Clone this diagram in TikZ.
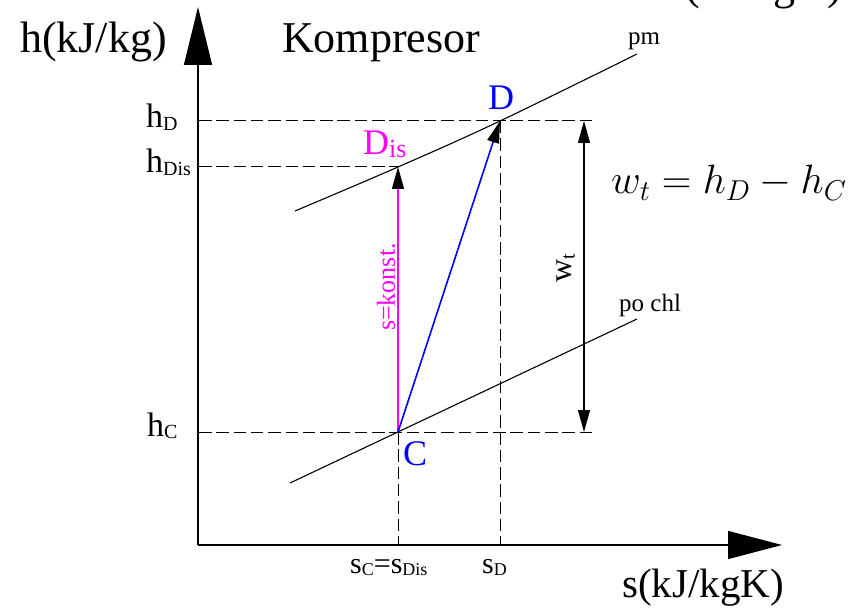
\RequirePackage{fix-cm}
\documentclass[tikz,border=0pt]{standalone}
\usepackage{fontspec}
\setmainfont{Liberation Serif}
\usetikzlibrary{arrows.meta}
\definecolor{mag}{RGB}{255,0,255}
\definecolor{blu}{RGB}{0,0,255}
\newcommand\fsz[1]{\fontsize{#1pt}{#1pt}\selectfont}
\newcommand\lbl[4]{{\fsz{#3}#1\raisebox{-0.08em}{\fsz{#4}#2}}}
\tikzset{
  tipk/.style={-{Triangle[length=22pt,width=12pt,color=black]}},
  dtipk/.style={{Triangle[length=22pt,width=12pt]}-{Triangle[length=22pt,width=12pt]}},
  dsh/.style={dash pattern=on 12.5pt off 4.8pt, line width=1pt},
  txt/.style={inner sep=0pt, anchor=base west},
  thin line/.style={line width=1.1pt},
  proc/.style={line width=1.6pt},
  axis/.style={line width=1.4pt}
}
\begin{document}
\begin{tikzpicture}[x=1pt,y=-1pt]
\useasboundingbox (0,0) rectangle (864,609);
% key points
\coordinate (O) at (198,545);
\coordinate (Ytop) at (198,7);
\coordinate (Xend) at (782,545);
\coordinate (C) at (398,432);
\coordinate (D) at (500,121);
\coordinate (Dis) at (398,167);
\coordinate (hD) at (199,121);
\coordinate (hDis) at (199,167);
\coordinate (hC) at (199,432);
\coordinate (rD) at (596,121);
\coordinate (rC) at (596,432);
\coordinate (sC) at (398,545);
\coordinate (sD) at (500,545);
\coordinate (wT) at (584,121);
\coordinate (wB) at (584,432);
\coordinate (pmA) at (295,211);
\coordinate (pmB) at (637,54);
\coordinate (pcA) at (290,483);
\coordinate (pcB) at (637,319);
% dashed helper lines
\draw[dsh] (hD) -- (rD);
\draw[dsh] (hDis) -- (Dis);
\draw[dsh] (hC) -- (rC);
\draw[dsh] (C) -- (sC);
\draw[dsh] (D) -- (sD);
% pressure lines
\draw[thin line] plot[smooth, tension=0.6] coordinates {(pmA) (Dis) (D) (pmB)};
\draw[thin line] (pcA) -- (pcB);
% process lines
\draw[mag, proc, tipk] (C) -- (Dis);
\draw[blu, proc, tipk] (C) -- (D);
\draw[thin line, dtipk] (wT) -- (wB);
% axes
\draw[axis, -{Triangle[length=58pt,width=28pt]}] (O) -- (Ytop);
\draw[axis, -{Triangle[length=54pt,width=28pt]}] (O) -- (Xend);
% texts
\node[txt] (ylab) at (20,53) {\fsz{44}h(kJ/kg)};
\node[txt] (title) at (282,53) {\fsz{44}Kompresor};
\node[txt] (topfrag) at (668,0) {\fsz{44}s(kJ/kgK)};
\node[txt] (pmlab) at (628,45) {\fsz{25}pm};
\node[txt] (pclab) at (619,312) {\fsz{25}po chl};
\node[txt] (lhD) at (146,128) {\lbl{h}{D}{34}{20}};
\node[txt] (lhDis) at (146,173) {\lbl{h}{Dis}{34}{20}};
\node[txt] (lhC) at (147,436) {\lbl{h}{C}{34}{20}};
\node[txt, text=blu] (lC) at (403,465) {\fsz{36}C};
\node[txt, text=blu] (lD) at (488,110) {\fsz{36}D};
\node[txt, text=mag] (lDis) at (363,155) {\lbl{D}{is}{36}{26}};
\node[txt] (lsC) at (350,573) {\lbl{s}{C}{30}{18}{\fsz{30}=}\lbl{s}{Dis}{30}{18}};
\node[txt] (lsD) at (482,573) {\lbl{s}{D}{30}{18}};
\node[txt] (xlab) at (622,597) {\fsz{41}s(kJ/kgK)};
\node[inner sep=0pt, rotate=90] (lwt) at (566,268) {\lbl{w}{t}{32}{20}};
\node[inner sep=0pt, rotate=90, text=mag] (lsk) at (386,287) {\fsz{26}s=konst.};
\node[txt] (eq) at (611,194) {\fsz{41}$w_t = h_D - h_C$};
\end{tikzpicture}
\end{document}
